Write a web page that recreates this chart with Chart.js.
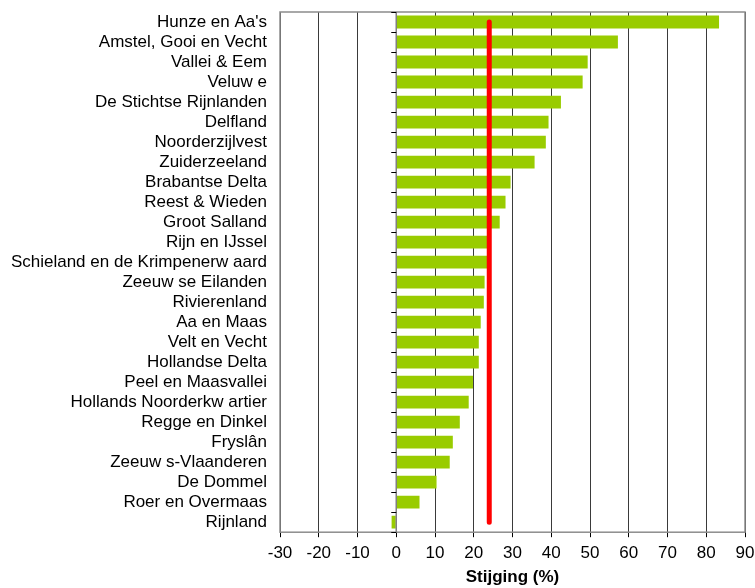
<!DOCTYPE html>
<html>
<head>
<meta charset="utf-8">
<script src="https://cdn.jsdelivr.net/npm/chart.js@4/dist/chart.umd.min.js"></script>
<style>
html,body{margin:0;padding:0;background:#fff;}
#wrap{width:755px;height:588px;}
</style>
</head>
<body>
<div id="wrap"><canvas id="c" width="755" height="588"></canvas></div>
<script>
const categories = ["Hunze en Aa's","Amstel, Gooi en Vecht","Vallei & Eem","Veluw e","De Stichtse Rijnlanden","Delfland","Noorderzijlvest","Zuiderzeeland","Brabantse Delta","Reest & Wieden","Groot Salland","Rijn en IJssel","Schieland en de Krimpenerw aard","Zeeuw se Eilanden","Rivierenland","Aa en Maas","Velt en Vecht","Hollandse Delta","Peel en Maasvallei","Hollands Noorderkw artier","Regge en Dinkel","Fryslân","Zeeuw s-Vlaanderen","De Dommel","Roer en Overmaas","Rijnland"];
const stijging = [83.3,57.2,49.4,48.1,42.5,39.3,38.6,35.7,29.5,28.2,26.7,23.6,23.6,22.8,22.6,21.8,21.3,21.3,19.8,18.7,16.4,14.6,13.8,10.4,6.0,-1.2];
const gemiddelde = 24;
const xTicks = {min:-30, max:90, step:10};
const axisTitle = "Stijging (%)";

const frame = {
  id:'frame',
  afterDatasetsDraw(chart){
    const {ctx, chartArea:a, scales} = chart;
    const x0 = scales.x.getPixelForValue(0);
    ctx.save();
    ctx.strokeStyle = '#808080';
    ctx.lineWidth = 1.5;
    ctx.beginPath();
    ctx.moveTo(x0, a.top); ctx.lineTo(x0, a.bottom);
    ctx.stroke();
    ctx.strokeStyle = '#000';
    ctx.lineWidth = 1;
    const n = categories.length;
    for(let i=0;i<=n;i++){
      const y = Math.round(scales.y.getPixelForValue(i-0.5))+0.5;
      ctx.beginPath(); ctx.moveTo(x0-5,y); ctx.lineTo(x0,y); ctx.stroke();
    }
    ctx.restore();
  },
  beforeDatasetsDraw(chart){
    const {ctx, chartArea:a} = chart;
    ctx.save();
    ctx.strokeStyle = '#8c8c8c';
    ctx.lineWidth = 1.5;
    ctx.strokeRect(a.left, a.top, a.right-a.left, a.bottom-a.top);
    ctx.restore();
  }
};

new Chart(document.getElementById('c'), {
  type:'bar',
  data:{
    labels: categories,
    datasets:[
      {type:'bar', data: stijging, backgroundColor:'#99CC00', borderWidth:0,
       barPercentage:0.64, categoryPercentage:1.0, order:2},
      {type:'line', data:[{x:gemiddelde,y:categories[0]},{x:gemiddelde,y:categories[categories.length-1]}],
       borderColor:'#FF0000', borderWidth:5, borderCapStyle:'round', pointRadius:0, fill:false, order:1}
    ]
  },
  options:{
    indexAxis:'y',
    responsive:false,
    animation:false,
    devicePixelRatio:1,
    layout:{padding:{left:8, right:10, top:12, bottom:0}},
    plugins:{legend:{display:false}, tooltip:{enabled:false}},
    scales:{
      x:{
        type:'linear', min:xTicks.min, max:xTicks.max,
        ticks:{stepSize:xTicks.step, color:'#000', font:{family:'Liberation Sans, Arial', size:17}, padding:6},
        grid:{color:'#3a3a3a', lineWidth:1, tickLength:5, tickColor:'#000'},
        border:{display:false},
        title:{display:true, text:axisTitle, color:'#000', font:{family:'Liberation Sans, Arial', size:17, weight:'bold'}, padding:{top:0,bottom:0}},
        afterFit(s){ s.paddingRight = 0; s.paddingLeft = 0; s.height -= 2; }
      },
      y:{
        type:'category',
        ticks:{color:'#000', font:{family:'Liberation Sans, Arial', size:17}, padding:5, labelOffset:0, autoSkip:false},
        grid:{display:false},
        border:{display:false},
        afterFit(s){ s.width = 272; s.paddingTop = 0; s.paddingBottom = 0; }
      }
    }
  },
  plugins:[frame]
});
</script>
</body>
</html>
